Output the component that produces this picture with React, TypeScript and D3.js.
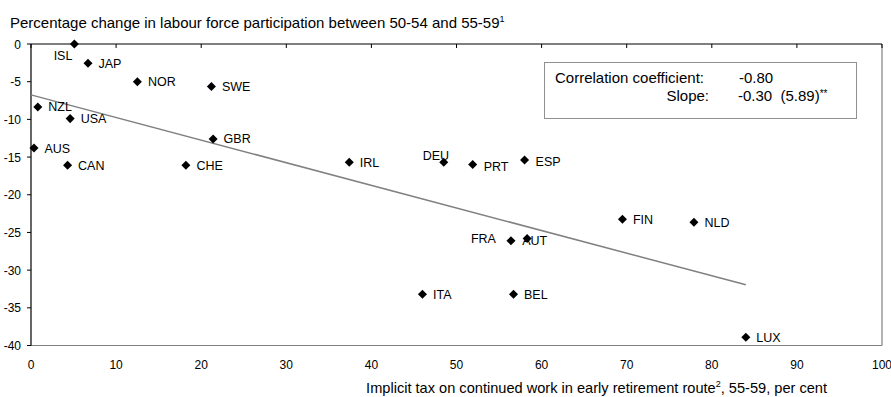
import React from "react";
import * as d3 from "d3";

// Country codes with implicit tax (x, per cent) and change in participation (y, per cent)
const countries = ["ISL", "JAP", "NOR", "SWE", "NZL", "USA", "GBR", "AUS", "CAN", "CHE", "IRL", "DEU", "PRT", "ESP", "FIN", "NLD", "FRA", "AUT", "BEL", "LUX", "ITA"];
const implicitTax = [5.1, 6.7, 12.5, 21.2, 0.8, 4.6, 21.4, 0.35, 4.3, 18.2, 37.4, 48.5, 51.9, 58.0, 69.5, 77.9, 56.4, 58.3, 56.7, 84.0, 46.0];
const participationChange = [0, -2.55, -5.0, -5.65, -8.35, -9.9, -12.6, -13.8, -16.1, -16.1, -15.7, -15.7, -16.0, -15.4, -23.25, -23.65, -26.1, -25.8, -33.2, -38.9, -33.2];

const xTicks = [0, 10, 20, 30, 40, 50, 60, 70, 80, 90, 100];
const yTicks = [0, -5, -10, -15, -20, -25, -30, -35, -40];

const correlation = -0.8;
const slope = -0.3;
const intercept = -6.75;
const tStat = 5.89;

// Label placement per country: anchor, dx, dy (pixels from the marker)
const labelPlacement: Record<string, [string, number, number]> = {
  ISL: ["end", -2, 11],
  DEU: ["start", -21, -7],
  FRA: ["end", -15, -2],
  AUT: ["start", -5, 2],
  PRT: ["start", 11, 2],
  ESP: ["start", 11, 1],
};

const W = 891;
const H = 397;
const margin = { left: 31, right: 9, top: 44, bottom: 51.5 };
const FONT = "'Liberation Sans', Arial, sans-serif";

export default function App() {
  const x = d3.scaleLinear().domain([0, 100]).range([margin.left, W - margin.right]);
  const y = d3.scaleLinear().domain([0, -40]).range([margin.top, H - margin.bottom]);

  const points = countries.map((c, i) => ({ c, x: implicitTax[i], y: participationChange[i] }));
  const diamond = d3.symbol().type(d3.symbolDiamond2).size(52)();
  const xMax = d3.max(implicitTax) as number;
  const trend = d3.line<number>().x((v) => x(v)).y((v) => y(intercept + slope * v));

  const x0 = x(0), x1 = x(100), y0 = y(0), y1 = y(-40);

  return (
    <svg width={W} height={H} style={{ position: "absolute", left: 0, top: 0, background: "#fff" }} fontFamily={FONT}>
      {/* title */}
      <text x={10} y={28} fontSize={15} fill="#000">
        Percentage change in labour force participation between 50-54 and 55-59
        <tspan dy={-6} fontSize={9}>1</tspan>
      </text>

      {/* plot frame: right and bottom edges */}
      <line x1={x1} x2={x1} y1={y0} y2={y1} stroke="#808080" strokeWidth={1.2} />
      <line x1={x0} x2={x1} y1={y1} y2={y1} stroke="#808080" strokeWidth={1.2} />

      {/* x axis crossing at zero (top) */}
      <line x1={x0} x2={x1} y1={y0} y2={y0} stroke="#000" strokeWidth={1.2} />
      {xTicks.map((t) => (
        <g key={"xt" + t}>
          <line x1={x(t)} x2={x(t)} y1={y0} y2={y0 + 4} stroke="#000" strokeWidth={1} />
          <text x={x(t)} y={369} fontSize={12} textAnchor="middle" fill="#000">{t}</text>
        </g>
      ))}

      {/* y axis */}
      <line x1={x0} x2={x0} y1={y0} y2={y1} stroke="#000" strokeWidth={1.2} />
      {yTicks.map((t) => (
        <g key={"yt" + t}>
          <line x1={x0 - 4} x2={x0} y1={y(t)} y2={y(t)} stroke="#000" strokeWidth={1} />
          <text x={21} y={y(t) + 4.5} fontSize={12} textAnchor="end" fill="#000">{t}</text>
        </g>
      ))}

      {/* fitted line */}
      <path d={trend([0, xMax]) || ""} stroke="#808080" strokeWidth={1.5} fill="none" />

      {/* points and labels */}
      {points.map((p) => {
        const [anchor, dx, dy] = labelPlacement[p.c] || ["start", 10.5, 0];
        return (
          <g key={p.c}>
            <text x={x(p.x) + dx} y={y(p.y) + dy + 4.5} fontSize={12.5} textAnchor={anchor} fill="#000">{p.c}</text>
            <path d={diamond} transform={`translate(${x(p.x)},${y(p.y)})`} fill="#000" />
          </g>
        );
      })}

      {/* statistics box */}
      <rect x={544.5} y={62.5} width={312} height={56} fill="#fff" stroke="#909090" strokeWidth={1} />
      <text x={555} y={83} fontSize={15} fill="#000">Correlation coefficient:</text>
      <text x={739} y={83} fontSize={15} fill="#000">{correlation.toFixed(2)}</text>
      <text x={709} y={101} fontSize={15} textAnchor="end" fill="#000">Slope:</text>
      <text x={738} y={101} fontSize={15} fill="#000" xmlSpace="preserve">
        {slope.toFixed(2) + "  (" + tStat.toFixed(2) + ")"}
        <tspan fontSize={10} dy={-4}>**</tspan>
      </text>

      {/* x axis title */}
      <text x={827} y={393} fontSize={14.6} textAnchor="end" fill="#000">
        Implicit tax on continued work in early retirement route
        <tspan dy={-6} fontSize={9}>2</tspan>
        <tspan dy={6}>, 55-59, per cent</tspan>
      </text>
    </svg>
  );
}
